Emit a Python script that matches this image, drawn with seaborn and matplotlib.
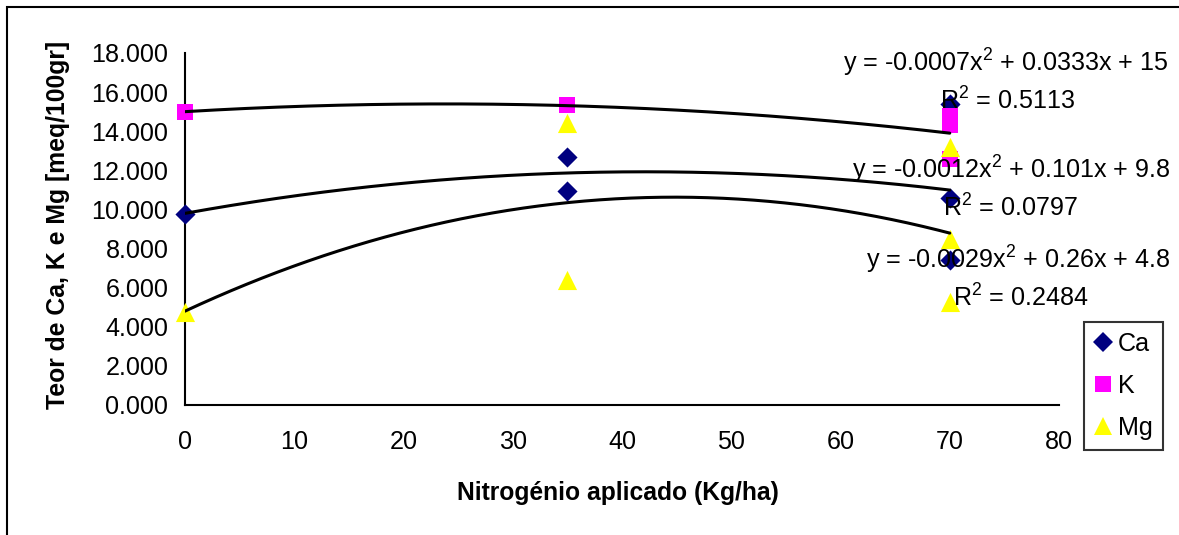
import numpy as np
import pandas as pd
import matplotlib
matplotlib.use("Agg")
import matplotlib.pyplot as plt
from matplotlib.patches import Rectangle
from matplotlib.lines import Line2D
import seaborn as sns

# ---- data ----
ca_x = [0, 35, 35, 70, 70, 70]
ca_y = [9.75, 12.7, 10.95, 15.4, 10.6, 7.4]
k_x = [0, 35, 70, 70, 70]
k_y = [15.0, 15.35, 14.8, 14.3, 12.6]
mg_x = [0, 35, 35, 70, 70, 70]
mg_y = [4.75, 14.4, 6.4, 13.2, 8.5, 5.25]

# trend-line coefficients as printed on the chart (a, b, c for a*x^2 + b*x + c)
ca_coef = [-0.0012, 0.101, 9.8]
k_coef = [-0.0007, 0.0333, 15.0]
mg_coef = [-0.0029, 0.26, 4.8]

eq_labels = ["y = -0.0007x$^{2}$ + 0.0333x + 15",
             "y = -0.0012x$^{2}$ + 0.101x + 9.8",
             "y = -0.0029x$^{2}$ + 0.26x + 4.8"]
r2_labels = ["R$^{2}$ = 0.5113", "R$^{2}$ = 0.0797", "R$^{2}$ = 0.2484"]

series_names = ["Ca", "K", "Mg"]
x_ticks = [0, 10, 20, 30, 40, 50, 60, 70, 80]
y_ticks = [0, 2, 4, 6, 8, 10, 12, 14, 16, 18]
x_label = "Nitrogénio aplicado (Kg/ha)"
y_label = "Teor de Ca, K e Mg [meq/100gr]"

# ---- style ----
sns.set_theme(style="white")
plt.rcParams['font.family'] = ['Liberation Sans', 'DejaVu Sans']
plt.rcParams['mathtext.default'] = 'regular'
plt.rcParams['text.color'] = 'black'

W, H = 1179, 535
fig = plt.figure(figsize=(W / 100, H / 100), dpi=100)
ax = fig.add_axes([185 / W, 1 - 405 / H, (1059 - 185) / W, (405 - 53) / H])

colors = {"Ca": "#000080", "K": "#FF00FF", "Mg": "#FFFF00"}
markers = {"Ca": "D", "K": "s", "Mg": "^"}
sizes = {"Ca": 105, "K": 135, "Mg": 190}

df = pd.concat([
    pd.DataFrame({"x": ca_x, "y": ca_y, "s": "Ca"}),
    pd.DataFrame({"x": k_x, "y": k_y, "s": "K"}),
    pd.DataFrame({"x": mg_x, "y": mg_y, "s": "Mg"}),
])
for name in series_names:
    sub = df[df.s == name]
    sns.scatterplot(data=sub, x="x", y="y", ax=ax, color=colors[name],
                    marker=markers[name], s=sizes[name], linewidth=0,
                    zorder=3, legend=False, clip_on=False)

# trend lines
xs = np.linspace(0, 70, 200)
for coef in [ca_coef, k_coef, mg_coef]:
    ys = np.polyval(coef, xs)
    sns.lineplot(x=xs, y=ys, ax=ax, color="black", linewidth=2.2, zorder=4)

FS = 18.1
ax.set_xlim(0, 80)
ax.set_ylim(0, 18)
ax.set_xticks(x_ticks)
ax.set_yticks(y_ticks)
ax.set_yticklabels([f"{v:.3f}" for v in y_ticks])
ax.set_xticklabels([str(v) for v in x_ticks])
ax.tick_params(axis="both", which="both", direction="out", length=7, width=1.5,
               color="black", labelsize=FS, labelcolor="black", pad=5)
ax.tick_params(axis="x", pad=11)
for sp in ["top", "right"]:
    ax.spines[sp].set_visible(False)
for sp in ["left", "bottom"]:
    ax.spines[sp].set_color("black")
    ax.spines[sp].set_linewidth(1.5)
ax.set_xlabel("")
ax.set_ylabel("")
ax.grid(False)

fig.text(618 / W, 1 - 493 / H, x_label, ha="center", va="center",
         fontsize=17.7, fontweight="bold", color="black")
fig.text(58 / W, 1 - 225 / H, y_label, ha="center", va="center",
         fontsize=17.8, fontweight="bold", rotation=90, color="black")

# equations
eq_pos = [(843, 63), (852, 170), (866, 260)]
r2_pos = [(940, 101), (943, 208), (953, 298)]
for lab, (px, py) in zip(eq_labels, eq_pos):
    fig.text(px / W, 1 - py / H, lab, ha="left", va="center", fontsize=FS,
             color="black")
for lab, (px, py) in zip(r2_labels, r2_pos):
    fig.text(px / W, 1 - py / H, lab, ha="left", va="center", fontsize=FS,
             color="black")

# legend
handles = [Line2D([], [], linestyle="none", marker=markers[n], color=colors[n],
                  markersize={"Ca": 10, "K": 11, "Mg": 13}[n], markeredgewidth=0)
           for n in series_names]
leg = fig.legend(handles, series_names, loc="upper left",
                 bbox_to_anchor=(1084 / W, 1 - 322 / H), frameon=True,
                 fontsize=FS, handlelength=0.7, handletextpad=0.25,
                 labelspacing=0.72, borderpad=0.4, borderaxespad=0,
                 fancybox=False)
leg.get_frame().set_edgecolor("black")
leg.get_frame().set_linewidth(1.5)
for t in leg.get_texts():
    t.set_color("black")

# outer chart-area border (only top and left visible in the reference)
fig.patches.append(Rectangle((7 / W, -0.1), 1.2, 1 - 7 / H + 0.1,
                             transform=fig.transFigure, fill=False,
                             edgecolor="black", linewidth=1.5))

fig.savefig("out.png", dpi=100)
